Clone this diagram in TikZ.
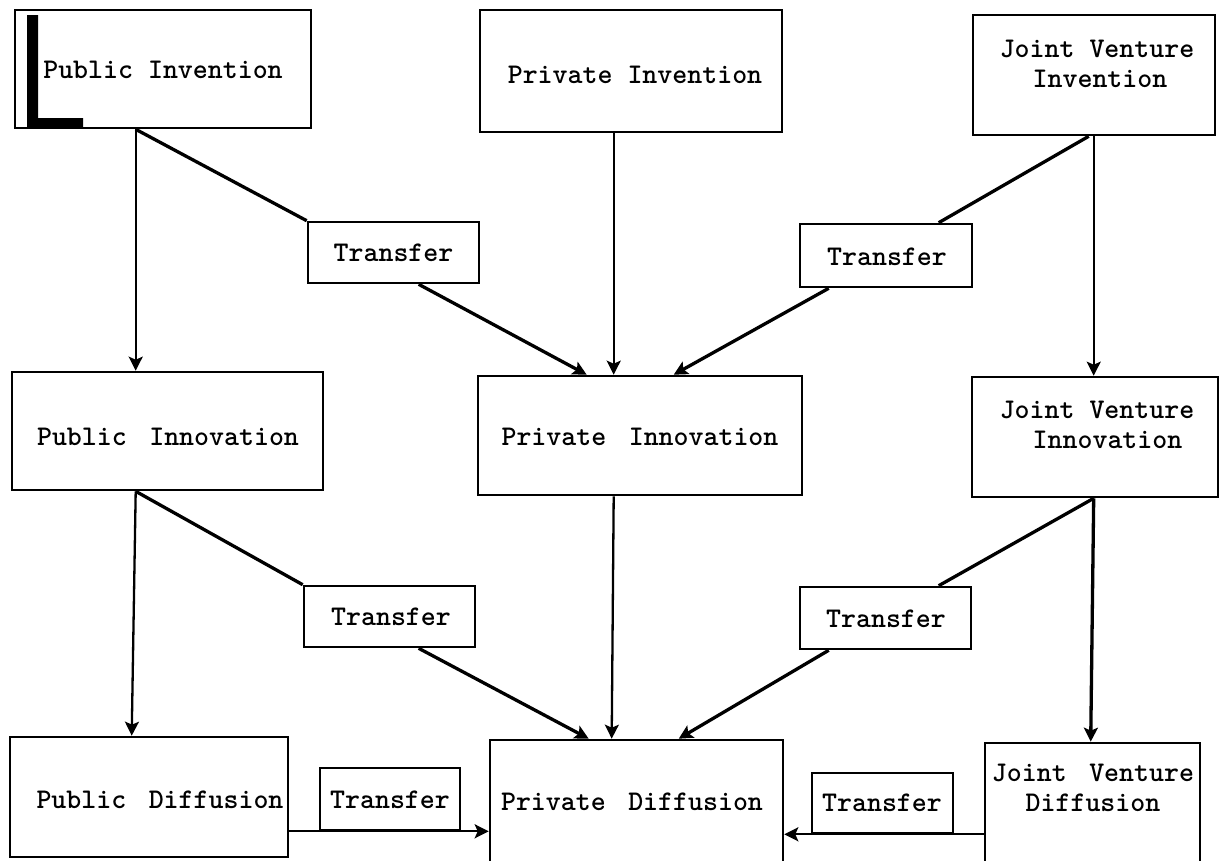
\documentclass[tikz,border=0pt]{standalone}
\usepackage{fontspec}
\usetikzlibrary{arrows.meta,calc}
\newcommand\dsp{\hspace{0.79em}}
\tikzset{
  box/.style={draw, line width=2.6pt, rectangle, inner sep=0pt},
  lbl/.style={font=\ttfamily\bfseries\fontsize{28.5}{30}\selectfont, align=center, inner sep=0pt},
  vline/.style={line width=2.3pt},
  dline/.style={line width=3.3pt},
  arr/.style={-{Stealth[length=14pt,width=14pt,inset=3pt]}},
}
\begin{document}
\begin{tikzpicture}[x=1pt,y=-1pt]
\useasboundingbox (0,0) rectangle (1219,860);
% boxes
\node[box, minimum width=296pt, minimum height=118pt] (pinv) at (163,69) {};
\node[box, minimum width=302pt, minimum height=122pt] (privinv) at (631,71) {};
\node[box, minimum width=242pt, minimum height=120pt] (jvinv) at (1094,75) {};
\node[box, minimum width=171pt, minimum height=61pt] (tr1) at (393.5,252.5) {};
\node[box, minimum width=172pt, minimum height=63pt] (tr2) at (886,255.5) {};
\node[box, minimum width=311pt, minimum height=118pt] (pinn) at (167.5,431) {};
\node[box, minimum width=324pt, minimum height=119pt] (privinn) at (640,435.5) {};
\node[box, minimum width=246pt, minimum height=120pt] (jvinn) at (1095,437) {};
\node[box, minimum width=171pt, minimum height=61pt] (tr3) at (389.5,616.5) {};
\node[box, minimum width=171pt, minimum height=62pt] (tr4) at (885.5,618) {};
\node[box, minimum width=278pt, minimum height=120pt] (pdif) at (149,797) {};
\node[box, minimum width=140pt, minimum height=62pt] (tr5) at (390,799) {};
\node[box, minimum width=293pt, minimum height=128pt] (privdif) at (636.5,804) {};
\node[box, minimum width=141pt, minimum height=60pt] (tr6) at (882.5,803) {};
\node[box, minimum width=215pt, minimum height=125pt] (jvdif) at (1092.5,805.5) {};
% labels
\node[lbl] (pinvT) at (163,70) {Public Invention};
\node[lbl] (privinvT) at (635,75) {Private Invention};
\node[lbl] (jvinvT) at (1097,64) {Joint Venture\\\hspace*{6pt}Invention};
\node[lbl] (tr1T) at (393.5,253) {Transfer};
\node[lbl] (tr2T) at (887,257) {Transfer};
\node[lbl] (pinnT) at (168,437) {Public\dsp Innovation};
\node[lbl] (privinnT) at (640,437) {Private\dsp Innovation};
\node[lbl] (jvinnT) at (1097,425) {Joint Venture\\\hspace*{21pt}Innovation};
\node[lbl] (tr3T) at (391,617) {Transfer};
\node[lbl] (tr4T) at (886,619) {Transfer};
\node[lbl] (pdifT) at (160,800) {Public\dsp Diffusion};
\node[lbl] (tr5T) at (390,800) {Transfer};
\node[lbl] (privdifT) at (632,802) {Private\dsp Diffusion};
\node[lbl] (tr6T) at (882,803) {Transfer};
\node[lbl] (jvdifT) at (1093,788) {Joint\dsp Venture\\Diffusion};
% L mark
\fill (27,15) -- (38,15) -- (38,118) -- (83,118) -- (83,128) -- (27,128) -- cycle;
% connectors: invention level
\draw[vline,arr] ([xshift=122pt]pinv.south west) -- ([xshift=125pt]pinn.north west);
\draw[dline] ([xshift=122pt]pinv.south west) -- (tr1.north west);
\draw[dline,arr] ([xshift=112pt]tr1.south west) -- ([xshift=110pt]privinn.north west);
\draw[vline,arr] ([xshift=135pt]privinv.south west) -- ([xshift=137pt]privinn.north west);
\draw[dline] ([xshift=117pt]jvinv.south west) -- ([xshift=140pt]tr2.north west);
\draw[dline,arr] ([xshift=30pt]tr2.south west) -- ([xshift=197pt]privinn.north west);
\draw[vline,arr] ([xshift=122pt]jvinv.south west) -- ([xshift=123pt]jvinn.north west);
% connectors: innovation level
\draw[vline,arr] ([xshift=125pt]pinn.south west) -- ([xshift=123pt]pdif.north west);
\draw[dline] ([xshift=125pt]pinn.south west) -- (tr3.north west);
\draw[dline,arr] ([xshift=116pt]tr3.south west) -- ([xshift=100pt]privdif.north west);
\draw[vline,arr] ([xshift=137pt]privinn.south west) -- ([xshift=123pt]privdif.north west);
\draw[dline] ([xshift=123pt]jvinn.south west) -- ([xshift=140pt]tr4.north west);
\draw[dline,arr] ([xshift=30pt]tr4.south west) -- ([xshift=190pt]privdif.north west);
\draw[dline,arr] ([xshift=123pt]jvinn.south west) -- ([xshift=107pt]jvdif.north west);
% connectors: diffusion level
\draw[vline,arr] ([yshift=27pt]pdif.south east) coordinate (b1) -- (b1 -| privdif.west);
\draw[vline,arr] ([yshift=35pt]jvdif.south west) coordinate (b2) -- (b2 -| privdif.east);
\end{tikzpicture}
\end{document}
